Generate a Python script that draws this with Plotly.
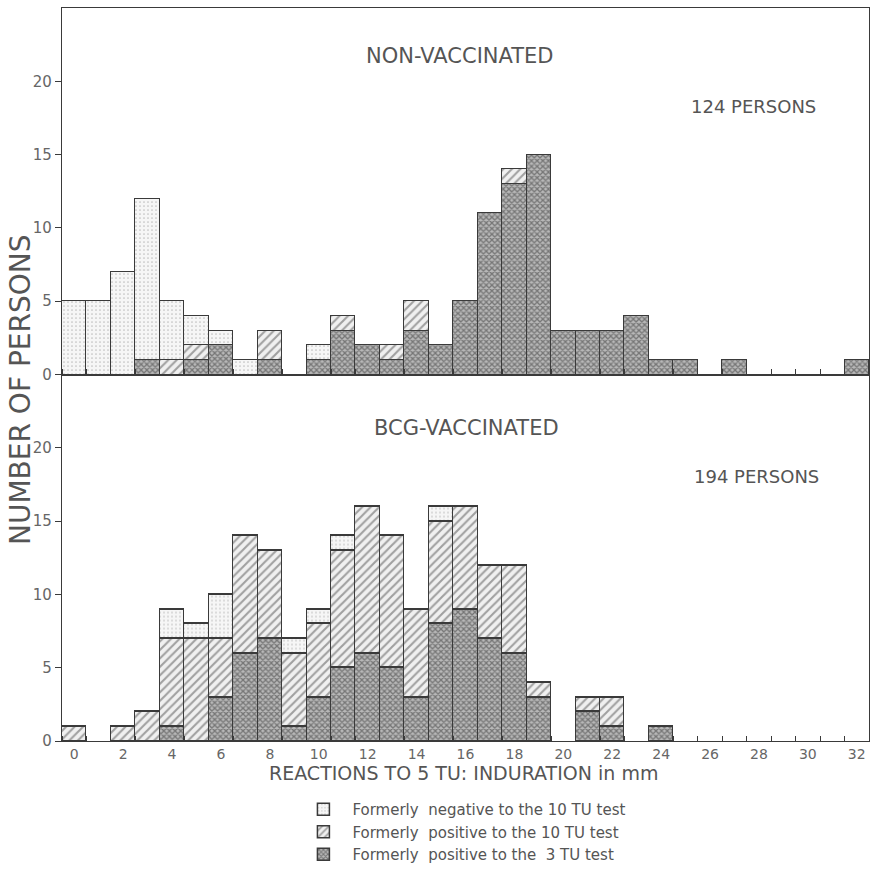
import plotly.graph_objects as go

mm = list(range(0, 33))

# Non-vaccinated (124 persons)
nv_neg   = [5,5,7,11,4,2,1,1,0,0,1,0,0,0,0,0,0,0,0,0,0,0,0,0,0,0,0,0,0,0,0,0,0]
nv_pos10 = [0,0,0,0,1,1,0,0,2,0,0,1,0,1,2,0,0,0,1,0,0,0,0,0,0,0,0,0,0,0,0,0,0]
nv_pos3  = [0,0,0,1,0,1,2,0,1,0,1,3,2,1,3,2,5,11,13,15,3,3,3,4,1,1,0,1,0,0,0,0,1]

# BCG-vaccinated (194 persons)
bv_neg   = [0,0,0,0,2,1,3,0,0,1,1,1,0,0,0,1,0,0,0,0,0,0,0,0,0,0,0,0,0,0,0,0,0]
bv_pos10 = [1,0,1,2,6,7,4,8,6,5,5,8,10,9,6,7,7,5,6,1,0,1,2,0,0,0,0,0,0,0,0,0,0]
bv_pos3  = [0,0,0,0,1,0,3,6,7,1,3,5,6,5,3,8,9,7,6,3,0,2,1,0,1,0,0,0,0,0,0,0,0]

x_tick_vals = list(range(0, 33, 2))
y_tick_vals = [0, 5, 10, 15, 20]

names = ["Formerly  negative to the 10 TU test",
         "Formerly  positive to the 10 TU test",
         "Formerly  positive to the  3 TU test"]

GRAY = "#555555"
LINE = "#3a3a3a"
FONT = "DejaVu Sans"

styles = {
    "neg": dict(shape=".", fgcolor="#8a8a8a", bgcolor="#f6f6f6", size=4, solidity=0.15),
    "pos10": dict(shape="/", fgcolor="#505050", bgcolor="#f0f0f0", size=6, solidity=0.35),
    "pos3": dict(shape="x", fgcolor="#333333", bgcolor="#b8b8b8", size=4, solidity=0.55),
}

def nz(v):
    return [val if val else None for val in v]

fig = go.Figure()

panels = [
    ("x", "y", nv_pos3, nv_pos10, nv_neg, True),
    ("x2", "y2", bv_pos3, bv_pos10, bv_neg, False),
]
for xa, ya, p3, p10, ng, show in panels:
    for key, vals, nm, rank in [("pos3", p3, names[2], 3), ("pos10", p10, names[1], 2), ("neg", ng, names[0], 1)]:
        fig.add_trace(go.Bar(
            x=mm, y=nz(vals), xaxis=xa, yaxis=ya, name=nm,
            legendgroup=key, showlegend=show, legendrank=rank,
            width=1.0,
            marker=dict(color=styles[key]["bgcolor"],
                        line=dict(color=LINE, width=1.5),
                        pattern=styles[key]),
            hoverinfo="x+y+name",
        ))

axis_common = dict(range=[-0.5, 32.5], showline=True, linecolor=LINE, linewidth=1.2,
                   mirror=True, showgrid=False, zeroline=False,
                   minor=dict(tick0=0.5, dtick=1, ticks="inside", ticklen=5,
                              tickcolor=LINE, tickwidth=1))
yaxis_common = dict(range=[0, 25], tickvals=y_tick_vals, ticks="outside", ticklen=6,
                    tickcolor=LINE, showline=True, linecolor=LINE, linewidth=1.2,
                    mirror=True, showgrid=False, zeroline=False,
                    tickfont=dict(family=FONT, size=15, color="#666666"))

fig.update_layout(
    width=877, height=881,
    margin=dict(l=62, r=8, t=8, b=140),
    paper_bgcolor="white", plot_bgcolor="white",
    barmode="stack", bargap=0,
    font=dict(family=FONT, color=GRAY),
    xaxis=dict(domain=[0, 1], anchor="y", showticklabels=False, **axis_common),
    yaxis=dict(domain=[0.5, 1], anchor="x", **yaxis_common),
    xaxis2=dict(domain=[0, 1], anchor="y2", tickvals=x_tick_vals, ticks="",
                ticklabelstandoff=0,
                tickfont=dict(family=FONT, size=14, color="#666666"), **axis_common),
    yaxis2=dict(domain=[0, 0.5], anchor="x2", **yaxis_common),
    showlegend=True,
    legend=dict(x=0.288, y=-0.0709, xanchor="left", yanchor="top",
                traceorder="grouped", tracegroupgap=0,
                font=dict(family=FONT, size=15, color=GRAY),
                itemwidth=48, bgcolor="rgba(0,0,0,0)"),
)

def ann(text, x, y, size, xanchor="center", textangle=0):
    fig.add_annotation(text=text, x=x, y=y, xref="paper", yref="paper",
                       xanchor=xanchor, yanchor="middle", showarrow=False,
                       textangle=textangle,
                       font=dict(family=FONT, size=size, color=GRAY))

def px2paper(px, py):
    return (px - 62) / 807, (741 - py) / 733

ann("NON-VACCINATED", *px2paper(460, 56), 21)
ann("124 PERSONS", *px2paper(818, 106), 18, xanchor="right")
ann("BCG-VACCINATED", *px2paper(466, 428), 21)
ann("194 PERSONS", *px2paper(821, 476), 18, xanchor="right")
ann("REACTIONS TO 5 TU: INDURATION in mm", *px2paper(463, 773), 19)
ann("NUMBER OF PERSONS", *px2paper(20, 390), 28, textangle=-90)

fig.write_html("out.html")
